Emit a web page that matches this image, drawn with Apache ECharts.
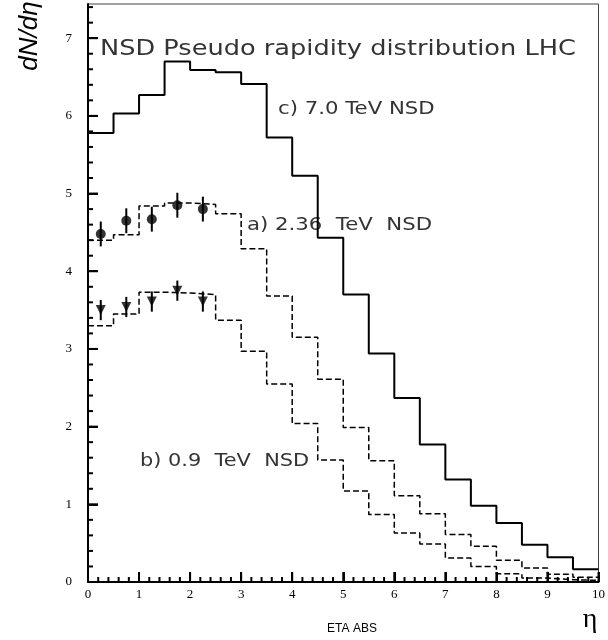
<!DOCTYPE html>
<html>
<head>
<meta charset="utf-8">
<script src="https://cdn.jsdelivr.net/npm/echarts@6/dist/echarts.min.js"></script>
<style>
  html, body { margin: 0; padding: 0; background: #fff; }
  #chart { width: 608px; height: 640px; }
  #err { position: absolute; left: 100px; top: 300px; color: red; font: 12px sans-serif; }
</style>
</head>
<body>
<div id="chart"></div>
<div id="err"></div>
<script>
  window.onerror = function (msg) { document.getElementById('err').textContent += ' ' + msg }

  // bin left edges (width 0.5) and the right end of the last bin
  const etaBins = [0, 0.5, 1, 1.5, 2, 2.5, 3, 3.5, 4, 4.5, 5, 5.5, 6, 6.5, 7, 7.5, 8, 8.5, 9, 9.5]
  const etaEnd = 10

  // model histograms
  const nsd70 = [5.78, 6.03, 6.27, 6.70, 6.59, 6.56, 6.41, 5.72, 5.23, 4.43, 3.70, 2.94, 2.37, 1.77, 1.32, 0.98, 0.76, 0.48, 0.32, 0.165]
  const nsd236 = [4.40, 4.47, 4.84, 4.88, 4.86, 4.74, 4.29, 3.68, 3.15, 2.61, 1.99, 1.56, 1.11, 0.88, 0.61, 0.46, 0.28, 0.18, 0.10, 0.06]
  const nsd09 = [3.30, 3.45, 3.73, 3.72, 3.70, 3.37, 2.97, 2.55, 2.04, 1.57, 1.17, 0.87, 0.63, 0.49, 0.31, 0.20, 0.105, 0.05, 0.03, 0.02]

  // measured points
  const dataEta = [0.25, 0.75, 1.25, 1.75, 2.25]
  const data236 = [4.48, 4.65, 4.67, 4.85, 4.80]
  const err236 = [0.16, 0.16, 0.16, 0.16, 0.16]
  const data09 = [3.50, 3.54, 3.61, 3.75, 3.61]
  const err09 = [0.13, 0.13, 0.13, 0.13, 0.13]

  // axis ticks
  const xMajor = [0, 1, 2, 3, 4, 5, 6, 7, 8, 9, 10]
  const yMajor = [0, 1, 2, 3, 4, 5, 6, 7]
  const yMax = 7.44

  // 5 sub-divisions per major step
  function minorOf (majors, top) {
    const out = []
    majors.forEach(m => {
      for (let k = 1; k < 5; k++) {
        const v = Math.round((m + k * 0.2) * 100) / 100
        if (v < top) out.push(v)
      }
    })
    return out
  }
  const xMinor = minorOf(xMajor, 10)
  const yMinor = minorOf(yMajor, yMax)

  function histo (vals) {
    const pts = etaBins.map((x, i) => [x, vals[i]])
    pts.push([etaEnd, vals[vals.length - 1]])
    return pts
  }

  // error bars and tick marks share one renderer: [x, y, down, up, dx(px), dy(px)]
  function renderSeg (params, api) {
    const x = api.value(0)
    const y = api.value(1)
    const lo = api.coord([x, y - api.value(2)])
    const hi = api.coord([x, y + api.value(3)])
    return {
      type: 'line',
      shape: { x1: lo[0], y1: lo[1], x2: hi[0] + api.value(4), y2: hi[1] - api.value(5) },
      style: { stroke: '#000', lineWidth: 2 }
    }
  }

  const errData = dataEta.map((x, i) => [x, data236[i], err236[i], err236[i], 0, 0])
    .concat(dataEta.map((x, i) => [x, data09[i], err09[i], err09[i], 0, 0]))
  const tickData = xMajor.map(v => [v, 0, 0, 0, 0, 10])
    .concat(xMinor.map(v => [v, 0, 0, 0, 0, 5]))
    .concat(yMajor.map(v => [0, v, 0, 0, 10, 0]))
    .concat(yMinor.map(v => [0, v, 0, 0, 5, 0]))

  const tickFont = { fontFamily: 'Liberation Serif', fontSize: 13, color: '#000' }
  const label = (txt, x, y, size, sx) => ({
    type: 'text', x: x, y: y, scaleX: sx,
    style: { text: txt, fontFamily: 'DejaVu Sans', fontSize: size, fill: '#333', align: 'left', verticalAlign: 'middle' }
  })

  const chart = echarts.init(document.getElementById('chart'))
  chart.setOption({
    animation: false,
    grid: {
      left: 88, top: 4, width: 511, bottom: 58,
      show: true, borderColor: '#444', borderWidth: 1
    },
    xAxis: {
      type: 'value', min: 0, max: 10, interval: 1,
      axisLine: { show: true, lineStyle: { color: '#000', width: 2 } },
      axisTick: { show: true, inside: true, length: 10, lineStyle: { color: '#000', width: 2 } },
      axisLabel: Object.assign({ show: true, margin: 6 }, tickFont),
      splitLine: { show: false }
    },
    yAxis: {
      type: 'value', min: 0, max: yMax, interval: 1,
      axisLine: { show: true, lineStyle: { color: '#000', width: 2 } },
      axisTick: { show: true, inside: true, length: 10, lineStyle: { color: '#000', width: 2 } },
      axisLabel: Object.assign({ margin: 16, showMaxLabel: false }, tickFont),
      splitLine: { show: false }
    },
    series: [
      {
        type: 'line', step: 'end', showSymbol: false,
        data: histo(nsd70),
        lineStyle: { color: '#000', width: 2 }
      },
      {
        type: 'line', step: 'end', showSymbol: false,
        data: histo(nsd236),
        lineStyle: { color: '#000', width: 1.5, type: 'dashed' }
      },
      {
        type: 'line', step: 'end', showSymbol: false,
        data: histo(nsd09),
        lineStyle: { color: '#000', width: 1.5, type: 'dashed' }
      },
      {
        type: 'custom', renderItem: renderSeg, data: errData.concat(tickData), z: 3
      },
      {
        type: 'scatter', symbol: 'circle', symbolSize: 10, z: 4,
        data: dataEta.map((x, i) => [x, data236[i]]),
        itemStyle: { color: '#000' }
      },
      {
        type: 'scatter', symbol: 'triangle', symbolRotate: 180, symbolSize: 10, z: 4,
        data: dataEta.map((x, i) => [x, data09[i]]),
        itemStyle: { color: '#000' }
      }
    ],
    graphic: [
      label('NSD Pseudo rapidity distribution LHC', 100, 49, 22, 1.165),
      label('c) 7.0 TeV NSD', 278, 109.5, 18, 1.18),
      label('a) 2.36  TeV  NSD', 247, 225, 18, 1.18),
      label('b) 0.9  TeV  NSD', 140, 461, 18, 1.16),
      {
        type: 'text', x: 30, y: 36, rotation: Math.PI / 2,
        style: { text: 'dN/dη', fontFamily: 'Liberation Sans', fontStyle: 'italic', fontSize: 26, fill: '#000', align: 'center', verticalAlign: 'middle' }
      },
      {
        type: 'text', x: 590, y: 620,
        style: { text: 'η', fontFamily: 'Liberation Serif', fontSize: 28, fill: '#000', align: 'center', verticalAlign: 'middle' }
      },
      {
        type: 'text', x: 352, y: 629,
        style: { text: 'ETA ABS', fontFamily: 'Liberation Sans', fontSize: 12, fill: '#000', align: 'center', verticalAlign: 'middle' }
      }
    ]
  })
</script>
</body>
</html>
